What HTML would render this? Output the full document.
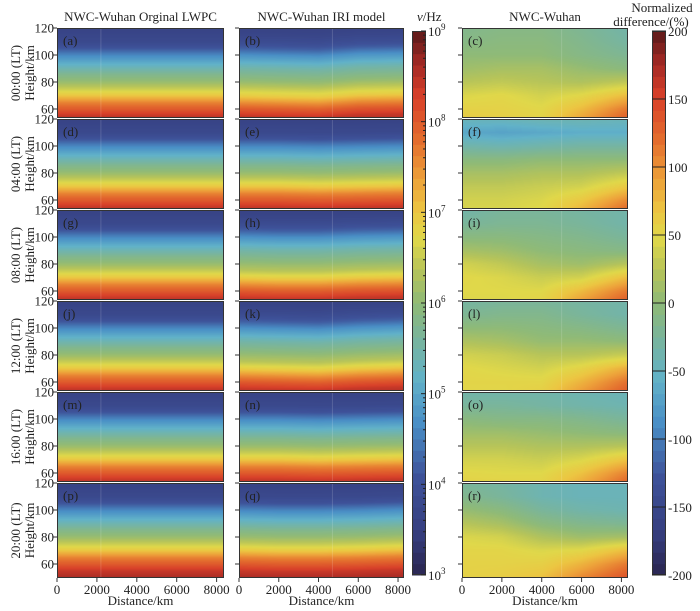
<!DOCTYPE html>
<html><head><meta charset="utf-8"><style>
body{margin:0;background:#fff;width:700px;height:611px;overflow:hidden;position:relative;font-family:"Liberation Serif",serif}
canvas{position:absolute}
svg{position:absolute;left:0;top:0}
text{font-family:"Liberation Serif",serif;fill:#222}
</style></head><body>
<div id="wrap"></div>
<svg id="ov" width="700" height="611"></svg>
<script>
// ---- data ----
const timeLabels=["00:00 (LT)","04:00 (LT)","08:00 (LT)","12:00 (LT)","16:00 (LT)","20:00 (LT)"];
const panelLetters=[["a","b","c"],["d","e","f"],["g","h","i"],["j","k","l"],["m","n","o"],["p","q","r"]];
const colTitles=["NWC-Wuhan Orginal LWPC","NWC-Wuhan IRI model","NWC-Wuhan"];
const xTicks=[0,2000,4000,6000,8000];
const yTicks=[60,80,100,120];
const cb1Ticks=[3,4,5,6,7,8,9];
const cb2Ticks=[-200,-150,-100,-50,0,50,100,150,200];
const profHeights=[120,115,110,105,100,95,90,85,80,75,70,65,60,55,50];
const lwpcProfiles=[
[3.6,3.7,3.8,4.1,4.6,5.0,5.4,5.8,6.1,6.5,7.0,7.6,8.0,8.4,8.6],
[3.6,3.7,3.8,4.1,4.6,5.0,5.4,5.8,6.1,6.5,7.0,7.6,8.0,8.4,8.6],
[3.6,3.7,3.8,4.1,4.6,5.0,5.4,5.8,6.1,6.5,7.0,7.6,8.0,8.4,8.6],
[3.6,3.7,3.8,4.1,4.6,5.0,5.4,5.8,6.1,6.5,7.0,7.6,8.0,8.4,8.6],
[3.6,3.7,3.8,4.1,4.6,5.0,5.4,5.8,6.1,6.5,7.0,7.6,8.0,8.4,8.6],
[3.6,3.7,3.8,4.1,4.6,5.0,5.4,5.8,6.1,6.5,7.0,7.6,8.0,8.4,8.6]];
const iriProfiles=[
[3.6,3.7,3.9,4.2,4.7,5.1,5.5,5.8,6.1,6.5,6.9,7.5,8.0,8.4,8.6],
[3.6,3.7,3.8,4.1,4.6,5.0,5.4,5.8,6.1,6.5,7.0,7.6,8.0,8.4,8.6],
[3.6,3.7,3.9,4.2,4.7,5.1,5.5,5.8,6.1,6.4,6.9,7.5,8.0,8.4,8.6],
[3.6,3.7,3.9,4.2,4.7,5.1,5.5,5.8,6.1,6.4,6.9,7.5,8.0,8.4,8.6],
[3.6,3.7,3.8,4.1,4.6,5.0,5.4,5.8,6.1,6.5,7.0,7.6,8.0,8.4,8.6],
[3.6,3.7,3.8,4.1,4.6,5.0,5.4,5.8,6.1,6.5,7.0,7.6,8.0,8.4,8.6]];
const gridDist=[0,2000,4000,6000,8370];
const iriOffsets=[[0,0.5,1,-1,-1.5],[0,0,0.5,0,-0.5],[0,0.5,0.5,-0.5,-1],[0,0.5,1,-0.5,-1.5],[0,0,0.5,0,-0.5],[0,0.5,0.5,0,-1]];
const diffHeights=[120,110,100,90,80,70,60,50];
const diffC=[[-15,-10,-10,-20,-35],[-10,-5,-5,-15,-30],[0,0,0,-10,-20],[10,15,15,5,-5],[25,30,25,20,30],[45,50,40,50,75],[55,55,50,75,115],[65,60,55,95,140]];
const diffF=[[-45,-45,-40,-40,-45],[-65,-70,-65,-60,-60],[-35,-40,-35,-30,-30],[-5,-5,0,0,0],[15,15,20,20,30],[30,30,35,40,65],[40,40,45,65,105],[45,45,50,85,135]];
const diffI=[[-35,-25,-25,-30,-35],[-25,-20,-20,-25,-35],[-5,-5,-10,-15,-25],[15,10,0,-5,-10],[40,30,15,10,25],[50,45,35,40,75],[48,48,48,75,115],[45,45,55,100,140]];
const diffL=[[-30,-25,-25,-30,-35],[-20,-15,-15,-25,-35],[0,0,-5,-10,-20],[20,15,5,5,0],[40,35,25,25,35],[50,45,40,55,85],[52,52,52,80,120],[50,50,60,100,140]];
const diffO=[[-35,-35,-35,-40,-45],[-25,-25,-30,-35,-40],[-5,-10,-10,-15,-25],[10,10,5,0,-5],[25,25,20,20,25],[40,40,35,45,70],[50,48,48,70,110],[55,55,55,90,135]];
const diffR=[[-25,-30,-40,-45,-45],[-15,-25,-40,-45,-45],[5,-5,-25,-35,-40],[25,15,-5,-15,-20],[45,40,20,10,15],[52,52,45,50,75],[55,55,58,80,115],[55,60,70,105,140]];
const diffGrids=[diffC,diffF,diffI,diffL,diffO,diffR];

// ---- layout ----
const colX=[[57,224],[239,404],[462,628]];
const xMaxKm=[8370,8300,8330];
const rowTop=[28,119,210,301,392,483];
const pxPerKm=27/20;
const stops=[[0,"#2b2650"],[0.08,"#363f80"],[0.18,"#3e5299"],[0.28,"#4a8fc6"],[0.36,"#62b2c8"],[0.44,"#7bb59a"],[0.5,"#8fba78"],[0.56,"#b6c45a"],[0.62,"#e0d84a"],[0.67,"#ecc642"],[0.73,"#eda03a"],[0.8,"#e46e2e"],[0.88,"#d8402a"],[0.94,"#a52a25"],[1,"#5a1a1a"]];
const sc=stops.map(s=>[s[0],parseInt(s[1].slice(1,3),16),parseInt(s[1].slice(3,5),16),parseInt(s[1].slice(5,7),16)]);
function cmap(t){t=Math.max(0,Math.min(1,t));for(let i=1;i<sc.length;i++){if(t<=sc[i][0]){const a=sc[i-1],b=sc[i],f=(t-a[0])/(b[0]-a[0]);return [a[1]+(b[1]-a[1])*f,a[2]+(b[2]-a[2])*f,a[3]+(b[3]-a[3])*f];}}return sc[sc.length-1].slice(1);}
function interp1(xs,ys,x){
 if(x>=xs[0])return ys[0];if(x<=xs[xs.length-1])return ys[ys.length-1];
 for(let i=1;i<xs.length;i++){if(x>=xs[i]){const f=(x-xs[i])/(xs[i-1]-xs[i]);return ys[i]+(ys[i-1]-ys[i])*f;}}}
function interpA(xs,ys,x){
 if(x<=xs[0])return ys[0];if(x>=xs[xs.length-1])return ys[ys.length-1];
 for(let i=1;i<xs.length;i++){if(x<=xs[i]){const f=(x-xs[i-1])/(xs[i]-xs[i-1]);return ys[i-1]+(ys[i]-ys[i-1])*f;}}}
const wrap=document.getElementById('wrap');
const ov=document.getElementById('ov');
const NS="http://www.w3.org/2000/svg";
const FS=13;
function el(tag,attrs,txt){const e=document.createElementNS(NS,tag);for(const k in attrs)e.setAttribute(k,attrs[k]);if(txt!==undefined)e.textContent=txt;ov.appendChild(e);return e;}

for(let r=0;r<6;r++){
 const top=rowTop[r],bottom=r<5?top+90:578;
 for(let c=0;c<3;c++){
  const x0=colX[c][0],x1=colX[c][1],w=x1-x0,h=bottom-top;
  const cv=document.createElement('canvas');cv.width=w;cv.height=h;cv.style.left=x0+'px';cv.style.top=top+'px';
  
  
  wrap.appendChild(cv);
  const ctx=cv.getContext('2d'),img=ctx.createImageData(w,h);
  for(let py=0;py<h;py++){
   const hk=120-(py+0.5)/pxPerKm;
   for(let px=0;px<w;px++){
    const d=(px+0.5)/w*xMaxKm[c];let t;
    if(c===0){t=(interp1(profHeights,lwpcProfiles[r],hk)-3)/6;}
    else if(c===1){const off=interpA(gridDist,iriOffsets[r],d);t=(interp1(profHeights,iriProfiles[r],hk+off)-3)/6;}
    else{const g=diffGrids[r];const col=g.map(row=>interpA(gridDist,row,d));t=(interp1(diffHeights,col,hk)+200)/400;}
    const [R,G,B]=cmap(t);const i=(py*w+px)*4;img.data[i]=R;img.data[i+1]=G;img.data[i+2]=B;img.data[i+3]=255;}}
  ctx.putImageData(img,0,0);
  const lx=[2200,4700,5000][c];const lpx=x0+lx/xMaxKm[c]*w;
  const ln=el('line',{x1:lpx,x2:lpx,y1:top,y2:bottom,stroke:'rgba(255,255,255,0.15)','stroke-width':1});
  
  const fr=el('rect',{x:x0+0.5,y:top+0.5,width:w-1,height:h-1,fill:'none',stroke:'#333','stroke-width':1});
  
  const lt=el('text',{x:x0+6,y:top+17,'font-size':FS},'('+panelLetters[r][c]+')');
  
  yTicks.forEach(v=>{const y=top+(120-v)*pxPerKm;
   const tk=el('line',{x1:x0-4,x2:x0,y1:y,y2:y,stroke:'#333','stroke-width':1});
   
   if(c===0){const tl=el('text',{x:x0-3,y:y+4.5,'font-size':FS,'text-anchor':'end'},v);}});
  if(r===5){xTicks.forEach(v=>{const x=x0+v/xMaxKm[c]*w;
   const tk=el('line',{x1:x,x2:x,y1:bottom,y2:bottom+4,stroke:'#333'});
   const tl=el('text',{x:x,y:bottom+16,'font-size':FS,'text-anchor':'middle'},v);});
   const xt=el('text',{x:(x0+x1)/2,y:605,'font-size':FS,'text-anchor':'middle'},'Distance/km');}
 }
 const cy=(top+bottom)/2;
 const tl=el('text',{transform:`translate(20,${cy}) rotate(-90)`,'font-size':FS,'text-anchor':'middle'},timeLabels[r]);
 
 const hl=el('text',{transform:`translate(34,${cy}) rotate(-90)`,'font-size':FS,'text-anchor':'middle'},'Height/km');
 
}
colTitles.forEach((t,c)=>{const e=el('text',{x:(colX[c][0]+colX[c][1])/2,y:21,'font-size':FS,'text-anchor':'middle'},t);});

function colorbar(x,name,n){const top=31,bot=575,h=bot-top;
 for(let i=0;i<n;i++){const t=(i+0.5)/n;const [R,G,B]=cmap(t);
  const rc=el('rect',{x:x,y:bot-(i+1)*h/n,width:14,height:h/n+0.5,fill:`rgb(${R|0},${G|0},${B|0})`});}
 const f=el('rect',{x:x+0.5,y:top+0.5,width:13,height:h-1,fill:'none',stroke:'#333'});}
colorbar(412,'colorbar-frequency',48);
colorbar(652,'colorbar-difference',48);
cb1Ticks.forEach((v,i)=>{const y=575-(v-3)/6*544;
 const tk=el('line',{x1:421,x2:426,y1:y,y2:y,stroke:'#222'});
 if(v<9){for(let m=2;m<10;m++){const ym=y-Math.log10(m)*544/6;const mt=el('line',{x1:423,x2:426,y1:ym,y2:ym,stroke:'#222'});}}
 const t=el('text',{x:428,y:y+5,'font-size':FS});
 t.innerHTML=`10<tspan dy="-6" font-size="9">${v}</tspan>`;});
cb2Ticks.forEach(v=>{const y=575-(v+200)/400*544;
 const tk=el('line',{x1:652,x2:666,y1:y,y2:y,stroke:'#222'});
 const t=el('text',{x:668,y:y+5,'font-size':FS},v);});
const ct=el('text',{x:417,y:21,'font-size':FS});
ct.innerHTML='<tspan font-style="italic">v</tspan>/Hz';
const c2a=el('text',{x:662,y:12,'font-size':FS,'text-anchor':'middle'},'Normalized');
const c2b=el('text',{x:651,y:26,'font-size':FS,'text-anchor':'middle'},'difference/(%)');
</script>
</body></html>
